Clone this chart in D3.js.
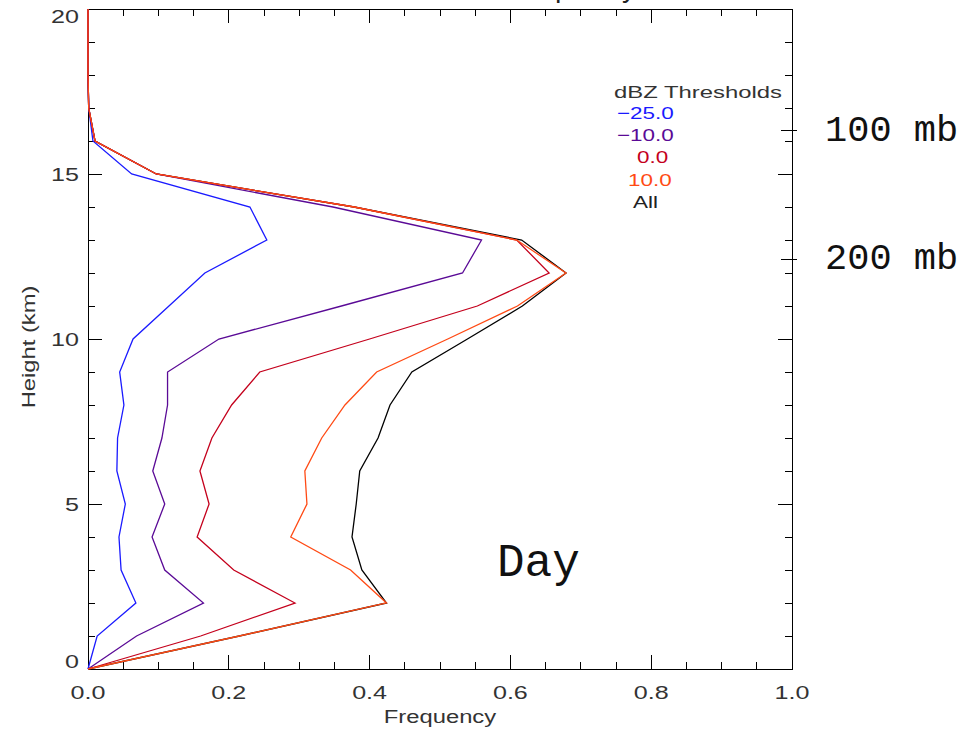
<!DOCTYPE html>
<html><head><meta charset="utf-8">
<script src="https://cdn.jsdelivr.net/npm/d3@7"></script>
<style>body{margin:0;background:#fff;overflow:hidden}</style>
</head><body>
<script>
// ---------------- DATA ----------------
const heights = [0,1,2,3,4,5,6,7,8,9,10,11,12,13,14,15,16,17,18,19,20];
const freqM25 = [0,0.013,0.068,0.047,0.044,0.053,0.041,0.042,0.051,0.045,0.064,0.115,0.166,0.254,0.230,0.062,0.007,0.001,0,0,0];
const freqM10 = [0,0.069,0.164,0.109,0.091,0.109,0.092,0.105,0.113,0.113,0.186,0.360,0.532,0.559,0.348,0.097,0.010,0.001,0,0,0];
const freq0   = [0,0.160,0.294,0.207,0.155,0.172,0.159,0.176,0.204,0.244,0.400,0.553,0.655,0.609,0.378,0.097,0.010,0.001,0,0,0];
const freq10  = [0,0.215,0.424,0.373,0.288,0.311,0.308,0.332,0.365,0.410,0.511,0.610,0.679,0.609,0.378,0.097,0.010,0.001,0,0,0];
const freqAll = [0,0.215,0.424,0.389,0.375,0.381,0.386,0.412,0.429,0.460,0.539,0.617,0.679,0.616,0.378,0.097,0.010,0.001,0,0,0];
const legendLabels = ["\u221225.0","\u221210.0","0.0","10.0","All"];
const legendTitle = "dBZ Thresholds";
const xTickValues = [0,0.2,0.4,0.6,0.8,1.0];
const xTickLabels = ["0.0","0.2","0.4","0.6","0.8","1.0"];
const yTickValues = [0,5,10,15,20];
const yTickLabels = ["0","5","10","15","20"];
const pressureLabels = ["100 mb","200 mb"];
const pressureHeights = [16.31,12.42];
const xTitle = "Frequency";
const yTitle = "Height (km)";
const panelLabel = "Day";
const chartTitle = "Vertical Frequency";

// ---------------- LAYOUT / STYLE ----------------
const W = 960, H = 733;
const L = 88, R = 792, T = 9, B = 669;
const colors = {m25:"#1a1aff", m10:"#5a0a96", z0:"#c4001c", p10:"#ff4a14", all:"#000000"};
const legendColors = [colors.m25, colors.m10, colors.z0, colors.p10, "#222"];
const legendX = [617,617,637,628,633];
const stretch = 1.32;

const svg = d3.select("body").append("svg").attr("width",W).attr("height",H)
  .style("font-family","'Liberation Sans', Arial, sans-serif");

const x = d3.scaleLinear().domain([0,1]).range([L,R]);
const y = d3.scaleLinear().domain([0,20]).range([B,T]);

function widen(sel, f){
  sel.each(function(){
    const w = this.getComputedTextLength();
    d3.select(this).attr("textLength", w*f).attr("lengthAdjust","spacingAndGlyphs");
  });
}

// title (lies above the visible area; only descenders show)
svg.append("text").attr("x",636).attr("y",-3).attr("text-anchor","end")
  .attr("font-size",28).attr("fill","#222").text(chartTitle);

// axes
const ax = svg.append("g").attr("stroke","#000").attr("shape-rendering","crispEdges");
const xMinor = d3.range(0,21).map(i=>i*0.05);
const yMinor = d3.range(0,21);
function tickLines(vals, len, side){
  ax.selectAll(null).data(vals).enter().append("line").each(function(v){
    const s = d3.select(this);
    if(side==="bottom") s.attr("x1",x(v)).attr("x2",x(v)).attr("y1",B).attr("y2",B-len);
    if(side==="top") s.attr("x1",x(v)).attr("x2",x(v)).attr("y1",T).attr("y2",T+len);
    if(side==="left") s.attr("y1",y(v)).attr("y2",y(v)).attr("x1",L).attr("x2",L+len);
    if(side==="right") s.attr("y1",y(v)).attr("y2",y(v)).attr("x1",R).attr("x2",R-len);
  });
}
tickLines(xMinor,7,"bottom"); tickLines(xMinor,7,"top");
tickLines(xTickValues,14,"bottom"); tickLines(xTickValues,14,"top");
tickLines(yMinor,7,"left"); tickLines(yMinor,7,"right");
tickLines(yTickValues,14,"left"); tickLines(yTickValues,14,"right");
ax.append("rect").attr("x",L).attr("y",T).attr("width",R-L).attr("height",B-T)
  .attr("fill","none").attr("stroke","#000");

// pressure ticks and labels
ax.selectAll(null).data(pressureHeights).enter().append("line")
  .attr("x1",R-11).attr("x2",R+5).attr("y1",d=>y(d)).attr("y2",d=>y(d));
svg.selectAll(null).data(pressureLabels).enter().append("text")
  .attr("x",825).attr("y",(d,i)=>y(pressureHeights[i])+10)
  .attr("font-family","'Liberation Mono', 'Courier New', monospace")
  .attr("font-size",37).attr("fill","#111").text(d=>d);

// tick labels
const xl = svg.selectAll(null).data(xTickLabels).enter().append("text")
  .attr("x",(d,i)=>x(xTickValues[i])).attr("y",699).attr("text-anchor","middle")
  .attr("font-size",19).attr("fill","#333").text(d=>d);
widen(xl, stretch);
const yl = svg.selectAll(null).data(yTickLabels).enter().append("text")
  .attr("x",79).attr("y",(d,i)=>{
    const v = yTickValues[i];
    return y(v) + (v===20 ? 14 : v===0 ? -1 : 7);
  })
  .attr("text-anchor","end").attr("font-size",19).attr("fill","#333").text(d=>d);
widen(yl, stretch);

// axis titles
const xt = svg.append("text").attr("x",(L+R)/2).attr("y",723).attr("text-anchor","middle")
  .attr("font-size",18).attr("fill","#333").text(xTitle);
widen(xt, stretch);
const yt = svg.append("text").attr("transform",`translate(35,347) rotate(-90)`)
  .attr("text-anchor","middle").attr("font-size",18).attr("fill","#333").text(yTitle);
widen(yt, stretch);

// series lines
const line = d3.line().x(d=>x(d[0])).y(d=>y(d[1]));
const series = [
  {vals:freqAll, c:colors.all},
  {vals:freqM25, c:colors.m25},
  {vals:freqM10, c:colors.m10},
  {vals:freq0,   c:colors.z0},
  {vals:freq10,  c:colors.p10}
];
svg.append("g").selectAll("path").data(series).enter().append("path")
  .attr("d",s=>line(s.vals.map((v,i)=>[v,heights[i]])))
  .attr("fill","none").attr("stroke",s=>s.c).attr("stroke-width",1.3)
  .attr("stroke-linejoin","miter");

// legend
svg.append("text").attr("x",614).attr("y",98).attr("font-size",17)
  .attr("fill","#333").attr("textLength",168).attr("lengthAdjust","spacingAndGlyphs")
  .text(legendTitle);
const ll = svg.selectAll(null).data(legendLabels).enter().append("text")
  .attr("x",(d,i)=>legendX[i]).attr("y",(d,i)=>119 + i*22.2)
  .attr("font-size",17).attr("fill",(d,i)=>legendColors[i]).text(d=>d);
widen(ll, stretch);

// panel label
svg.append("text").attr("x",497).attr("y",576)
  .attr("font-family","'Liberation Mono', 'Courier New', monospace")
  .attr("font-size",46).attr("fill","#111").text(panelLabel);
</script>
</body></html>
